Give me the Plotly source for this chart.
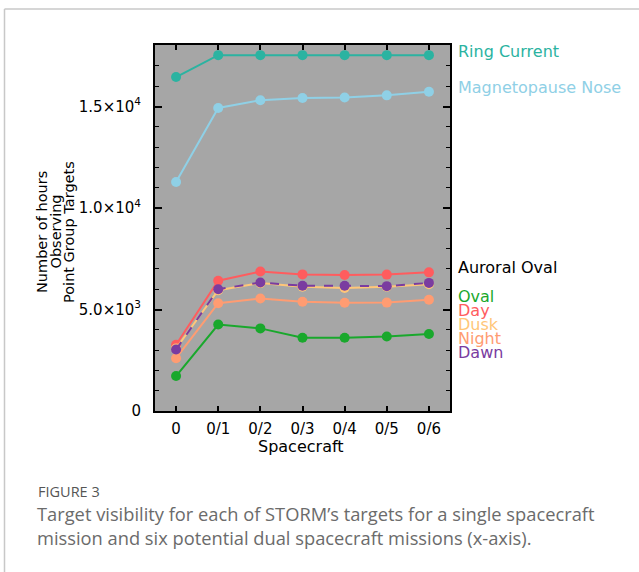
import plotly.graph_objects as go

categories = ["0", "0/1", "0/2", "0/3", "0/4", "0/5", "0/6"]

ring_current = [16450, 17530, 17530, 17530, 17530, 17530, 17530]
magnetopause_nose = [11280, 14930, 15310, 15420, 15440, 15550, 15730]
oval = [1720, 4260, 4070, 3610, 3610, 3670, 3790]
day = [3260, 6420, 6870, 6730, 6700, 6720, 6830]
dusk = [3080, 5950, 6300, 6120, 6060, 6120, 6250]
night = [2600, 5310, 5540, 5380, 5330, 5340, 5480]
dawn = [3030, 6000, 6330, 6170, 6170, 6150, 6310]

ytick_vals = [0, 5000, 10000, 15000]
ytick_text = ["0", "5.0×10<sup>3</sup>", "1.0×10<sup>4</sup>", "1.5×10<sup>4</sup>"]

W, H = 639, 572
L, R, T, B = 155, 450, 45, 411


def px(x):
    return (x - L) / (R - L)


def py(y):
    return (B - y) / (B - T)


C_RING = "#2bb3a1"
C_MAG = "#8fd0e6"
C_OVAL = "#19a82c"
C_DAY = "#ff5c5e"
C_DUSK = "#ffc678"
C_NIGHT = "#ff9c72"
C_DAWN = "#7a3ca0"

xs = list(range(len(categories)))

fig = go.Figure()


def add(vals, color, dash="solid"):
    fig.add_trace(go.Scatter(
        x=xs, y=vals, mode="lines+markers",
        line=dict(color=color, width=2, dash=dash),
        marker=dict(color=color, size=10),
        showlegend=False, hoverinfo="skip"))


add(ring_current, C_RING)
add(magnetopause_nose, C_MAG)
add(oval, C_OVAL)
add(night, C_NIGHT)
add(day, C_DAY)
add(dusk, C_DUSK)
add(dawn, C_DAWN, dash="dash")

FONT = "DejaVu Sans"

fig.update_layout(
    width=W, height=H,
    margin=dict(l=L, r=W - R, t=T, b=H - B),
    paper_bgcolor="white",
    plot_bgcolor="#a6a6a6",
    font=dict(family=FONT, color="black", size=15),
    xaxis=dict(
        range=[-0.5, 6.5],
        tickmode="array", tickvals=xs, ticktext=categories,
        ticks="inside", ticklen=5, tickwidth=1.5, tickcolor="black",
        showline=True, linecolor="black", linewidth=2, mirror="allticks",
        showgrid=False, zeroline=False,
        tickfont=dict(size=15, family=FONT),
        ticklabelstandoff=3,
    ),
    yaxis=dict(
        range=[0, 18030],
        tickmode="array", tickvals=ytick_vals, ticktext=ytick_text,
        ticks="inside", ticklen=7, tickwidth=1.5, tickcolor="black",
        showline=True, linecolor="black", linewidth=2, mirror="allticks",
        showgrid=False, zeroline=False,
        tickfont=dict(size=15, family=FONT),
        ticklabelstandoff=9,
        minor=dict(dtick=1000, ticks="inside", ticklen=4, tickwidth=1.2,
                   tickcolor="black", showgrid=False),
    ),
)

ann = []
# axis titles
ann.append(dict(x=px(301), y=py(446), xref="paper", yref="paper",
                text="Spacecraft", showarrow=False, xanchor="center", yanchor="middle",
                font=dict(size=16, family=FONT)))
ytitle_lines = ["Number of hours", "Observing", "Point Group Targets"]
for i, line in enumerate(ytitle_lines):
    ann.append(dict(x=px(42 + 13.5 * i), y=py(232), xref="paper", yref="paper",
                    text=line, textangle=-90, showarrow=False,
                    xanchor="center", yanchor="middle",
                    font=dict(size=14.5, family=FONT)))

# series labels
labels = [
    ("Ring Current", C_RING, 51),
    ("Magnetopause Nose", C_MAG, 87),
    ("Auroral Oval", "black", 267),
    ("Oval", C_OVAL, 296),
    ("Day", C_DAY, 310),
    ("Dusk", C_DUSK, 324),
    ("Night", C_NIGHT, 338),
    ("Dawn", C_DAWN, 352),
]
for text, color, y in labels:
    ann.append(dict(x=px(456), y=py(y), xref="paper", yref="paper", text=text,
                    showarrow=False, xanchor="left", yanchor="middle",
                    font=dict(size=16, color=color, family=FONT)))

# caption
ann.append(dict(x=px(36), y=py(491), xref="paper", yref="paper", text="FIGURE 3",
                showarrow=False, xanchor="left", yanchor="middle",
                font=dict(size=14.5, color="#555555", family="Open Sans")))
ann.append(dict(x=px(35), y=py(525), xref="paper", yref="paper",
                text="Target visibility for each of STORM’s targets for a single spacecraft<br>"
                     "mission and six potential dual spacecraft missions (x-axis).",
                showarrow=False, xanchor="left", yanchor="middle", align="left",
                font=dict(size=18.3, color="#6b6b6b", family="Open Sans")))
fig.update_layout(annotations=ann)

# frame lines of the figure panel
fig.add_shape(type="line", xref="paper", yref="paper",
              x0=px(4.5), x1=px(700), y0=py(9), y1=py(9),
              line=dict(color="#c8c8c8", width=1.5), layer="above")
fig.add_shape(type="line", xref="paper", yref="paper",
              x0=px(4.5), x1=px(4.5), y0=py(9), y1=py(600),
              line=dict(color="#c8c8c8", width=1.5), layer="above")

fig.write_html("out.html")
